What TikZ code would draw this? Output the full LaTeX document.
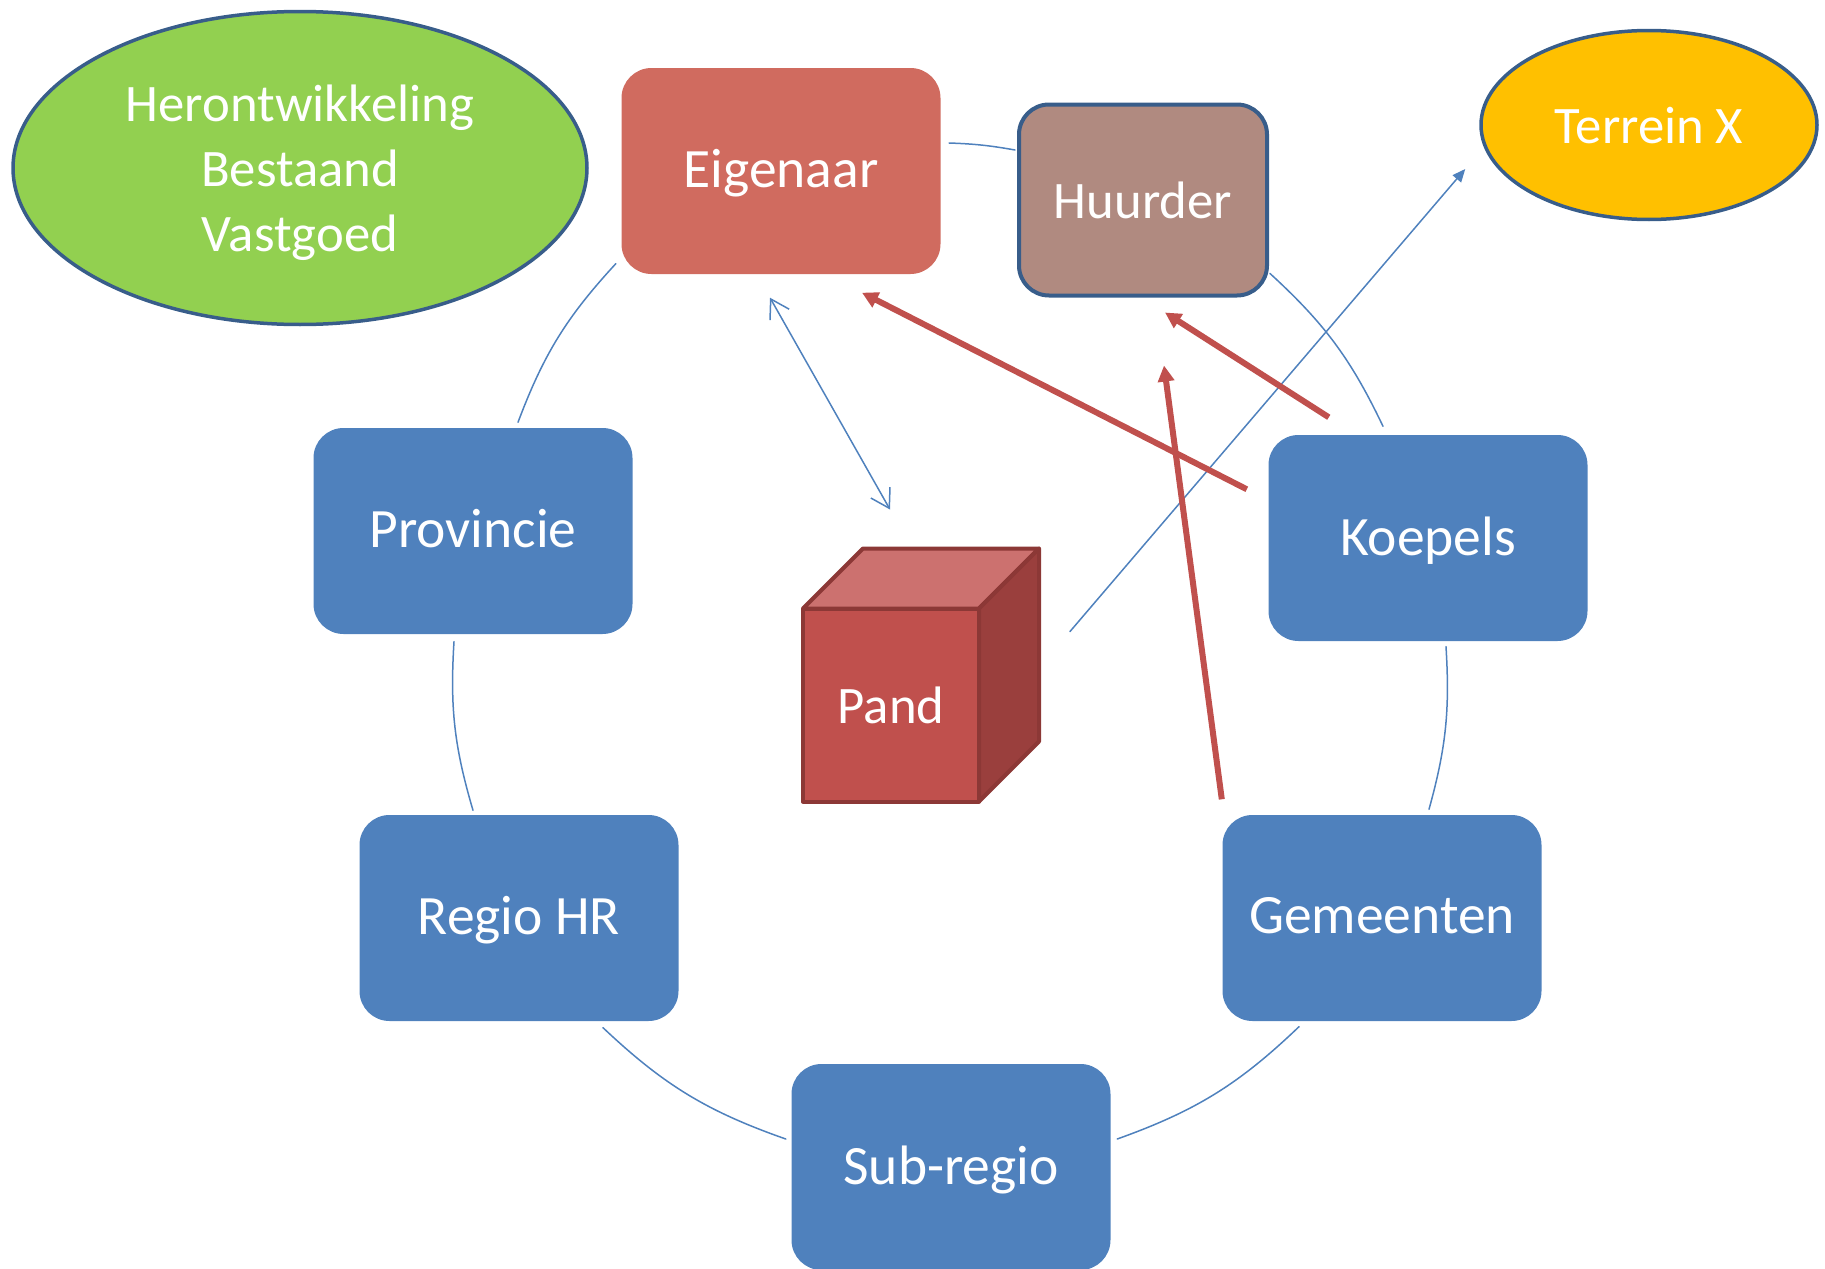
\documentclass[tikz,border=0pt]{standalone}
\usepackage{fontspec}
\setmainfont{Carlito}
\usetikzlibrary{arrows.meta,shapes.geometric}
\definecolor{blauwvlak}{HTML}{4F81BD}
\definecolor{roodvlak}{HTML}{D06B5F}
\definecolor{bruinvlak}{HTML}{B08A80}
\definecolor{groenvlak}{HTML}{92D050}
\definecolor{geelvlak}{HTML}{FFC000}
\definecolor{randblauw}{HTML}{385D8A}
\definecolor{pijlrood}{HTML}{C0504D}
\definecolor{kubusboven}{HTML}{CC716F}
\definecolor{kubuszij}{HTML}{9A3F3D}
\definecolor{kubusrand}{HTML}{8C3836}

\begin{document}
\begin{tikzpicture}[line cap=round,line join=round,x=0.1mm,y=-0.1mm,
  tekst/.style={text=white,font=\fontsize{15}{18.5}\selectfont,align=center,inner sep=0pt,text depth=0pt},
  blok/.style={tekst,font=\fontsize{15.8}{19}\selectfont,text depth=0.45mm,rectangle,rounded corners=3mm,fill=blauwvlak,minimum width=31.9mm,minimum height=20.6mm},
  ovaal/.style={tekst,ellipse,draw=randblauw,line width=0.35mm},
  rood/.style={draw=pijlrood,line width=0.6mm,line cap=butt,-{Triangle[length=1.6mm,width=1.6mm]}},
  cirkel/.style={draw=blauwvlak,line width=0.15mm},
  dun/.style={draw=blauwvlak,line width=0.15mm}]
\useasboundingbox (0,0) rectangle (1825,1269);

\node[ovaal,fill=groenvlak,minimum width=57.4mm,minimum height=31.3mm] (hbv) at (300,168) {Herontwikkeling\\Bestaand\\Vastgoed};
\node[ovaal,fill=geelvlak,minimum width=33.6mm,minimum height=18.9mm] (terrein) at (1649,125) {Terrein X};

\node[blok,fill=roodvlak] (eig) at (781,171) {Eigenaar};
\node[blok,fill=bruinvlak,draw=randblauw,line width=0.4mm,font=\fontsize{15}{18.5}\selectfont,text depth=0pt,minimum width=24.8mm,minimum height=19.1mm] (huur) at (1143,200) {Huurder};

\node[blok] (prov) at (473,531) {Provincie};
\node[blok] (koep) at (1428,538) {Koepels};
\node[blok] (regio) at (519,918) {Regio HR};
\node[blok] (gem) at (1382,918) {Gemeenten};
\node[blok] (sub) at (951,1167) {Sub-regio};

\node[tekst,fill=pijlrood,draw=kubusrand,line width=0.4mm,outer sep=0pt,minimum width=17.6mm,minimum height=19.3mm] (pand) at (891,705) {Pand};
\draw[fill=kubusboven,draw=kubusrand,line width=0.4mm] (pand.north west) -- ++(60,-60) -- ([shift={(60,-60)}]pand.north east) -- (pand.north east) -- cycle;
\draw[fill=kubuszij,draw=kubusrand,line width=0.4mm] (pand.north east) -- ++(60,-60) -- ([shift={(60,-60)}]pand.south east) -- (pand.south east) -- cycle;

\draw[cirkel] ([shift={(8,-28)}]eig.east) to[bend left=4] ([shift={(-2,-50)}]huur.west);
\draw[cirkel] ([shift={(1,-24)}]huur.south east) to[bend left=11] ([shift={(-45,-8)}]koep.north);
\draw[cirkel] ([shift={(18,5)}]koep.south) to[bend left=9.5] ([shift={(47,-5)}]gem.north);
\draw[cirkel] ([shift={(-83,5)}]gem.south) to[bend left=12] ([shift={(6,-28)}]sub.east);
\draw[cirkel] ([shift={(-5,-28)}]sub.west) to[bend left=12] ([shift={(84,6)}]regio.south);
\draw[cirkel] ([shift={(-46,-4)}]regio.north) to[bend left=10] ([shift={(-19,7)}]prov.south);
\draw[cirkel] ([shift={(45,-5)}]prov.north) to[bend left=11] ([shift={(-5,-11)}]eig.south west);

\draw[dun,{Straight Barb[length=1.8mm,width=2.2mm]}-{Straight Barb[length=1.8mm,width=2.2mm]}] ([shift={(-11,23)}]eig.south) -- ([shift={(-1,-99)}]pand.north);
\draw[dun,-{Triangle[length=1.3mm,width=1.1mm]}] ([shift={(91,23)}]pand.north east) -- ([shift={(-14,44)}]terrein.west);

\draw[rood] ([shift={(-21,55)}]koep.north west) -- ([shift={(81,18)}]eig.south);
\draw[rood] ([shift={(61,-17)}]koep.north west) -- ([shift={(22,15)}]huur.south);
\draw[rood] ([shift={(0,-15)}]gem.north west) -- ([shift={(21,68)}]huur.south);

\end{tikzpicture}
\end{document}
